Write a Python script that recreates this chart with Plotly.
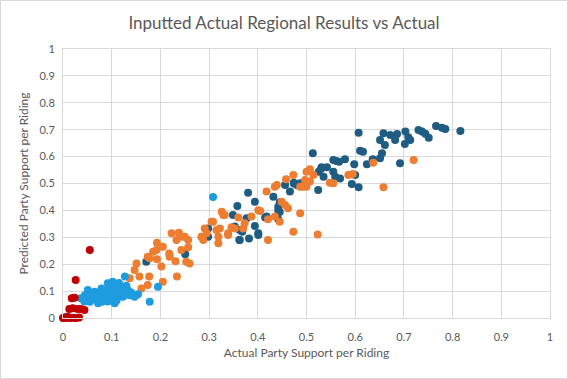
import plotly.graph_objects as go

# Series data (actual, predicted)
dark_x = [0.171,0.251,0.298,0.298,0.362,0.382,0.38,0.358,0.394,0.401,0.432,0.442,0.442,0.349,0.377,0.353,0.368,0.394,0.418,0.442,0.456,0.474,0.48,0.466,0.524,0.487,0.513,0.535,0.555,0.525,0.531,0.542,0.559,0.569,0.555,0.567,0.579,0.598,0.6,0.593,0.607,0.624,0.636,0.651,0.655,0.61,0.616,0.607,0.651,0.658,0.661,0.672,0.682,0.686,0.692,0.702,0.703,0.709,0.713,0.73,0.737,0.744,0.751,0.766,0.778,0.785,0.816,0.363,0.401,0.415,0.363,0.445,0.474,0.53,0.561,0.445]
dark_y = [0.209,0.237,0.333,0.302,0.29,0.296,0.466,0.416,0.432,0.315,0.451,0.414,0.401,0.383,0.371,0.34,0.321,0.342,0.377,0.367,0.494,0.503,0.494,0.47,0.476,0.501,0.612,0.525,0.544,0.544,0.56,0.56,0.525,0.519,0.587,0.581,0.59,0.572,0.532,0.498,0.486,0.572,0.59,0.594,0.612,0.622,0.618,0.689,0.662,0.687,0.643,0.68,0.662,0.684,0.575,0.647,0.693,0.672,0.662,0.699,0.693,0.685,0.67,0.714,0.707,0.703,0.695,0.327,0.309,0.374,0.29,0.43,0.5,0.555,0.584,0.394]

orange_x = [0.127,0.137,0.147,0.151,0.157,0.161,0.174,0.177,0.205,0.174,0.178,0.185,0.192,0.193,0.193,0.202,0.205,0.218,0.219,0.223,0.231,0.233,0.234,0.238,0.243,0.243,0.25,0.253,0.257,0.257,0.26,0.284,0.288,0.291,0.295,0.305,0.308,0.315,0.319,0.319,0.322,0.326,0.329,0.332,0.339,0.339,0.346,0.353,0.36,0.37,0.373,0.387,0.401,0.405,0.418,0.421,0.421,0.435,0.435,0.439,0.445,0.449,0.456,0.458,0.462,0.473,0.473,0.487,0.487,0.493,0.497,0.5,0.5,0.507,0.507,0.514,0.523,0.548,0.555,0.586,0.595,0.637,0.658,0.72]
orange_y = [0.104,0.148,0.178,0.203,0.154,0.11,0.123,0.154,0.135,0.228,0.222,0.246,0.253,0.28,0.218,0.191,0.265,0.24,0.228,0.315,0.211,0.29,0.154,0.317,0.302,0.253,0.302,0.209,0.29,0.263,0.203,0.302,0.29,0.333,0.315,0.358,0.358,0.327,0.302,0.278,0.333,0.395,0.383,0.383,0.315,0.309,0.337,0.333,0.374,0.333,0.352,0.377,0.401,0.398,0.47,0.367,0.29,0.377,0.488,0.494,0.358,0.432,0.42,0.516,0.408,0.532,0.321,0.389,0.488,0.488,0.513,0.544,0.488,0.553,0.507,0.532,0.31,0.503,0.501,0.532,0.535,0.577,0.486,0.587]

light_x = [0.037,0.044,0.051,0.051,0.058,0.065,0.065,0.072,0.072,0.079,0.079,0.085,0.092,0.092,0.095,0.099,0.102,0.106,0.109,0.113,0.12,0.123,0.127,0.133,0.137,0.147,0.154,0.178,0.195,0.308,0.045,0.06,0.07,0.085,0.09,0.1,0.105,0.115,0.08,0.055,0.11,0.125,0.14,0.097,0.115,0.13]
light_y = [0.073,0.061,0.104,0.073,0.067,0.098,0.079,0.055,0.092,0.073,0.11,0.085,0.129,0.061,0.117,0.098,0.135,0.055,0.123,0.085,0.11,0.079,0.154,0.104,0.085,0.079,0.088,0.06,0.116,0.45,0.085,0.09,0.07,0.1,0.075,0.07,0.11,0.1,0.06,0.06,0.065,0.095,0.095,0.09,0.13,0.12]

red_x = [0.026,0.055,0.018,0.024,0.013,0.02,0.037,0.044,0.03,0.0,0.006,0.017,0.027,0.009,0.024,0.003,0.012,0.033]
red_y = [0.141,0.253,0.073,0.075,0.033,0.036,0.033,0.03,0.033,0.0,0.0,0.0,0.0,0.005,0.001,0.002,0.001,0.002]

ticks = [0, 0.1, 0.2, 0.3, 0.4, 0.5, 0.6, 0.7, 0.8, 0.9, 1]
tick_text = ["0", "0.1", "0.2", "0.3", "0.4", "0.5", "0.6", "0.7", "0.8", "0.9", "1"]

FONT = "Lato"
GRAY = "#595959"
GRID = "#D9D9D9"

fig = go.Figure()
for xs, ys, col in [(dark_x, dark_y, "#1F5C82"), (orange_x, orange_y, "#ED7D31"),
                    (light_x, light_y, "#1F9CE0"), (red_x, red_y, "#C00000")]:
    fig.add_trace(go.Scatter(x=xs, y=ys, mode="markers", cliponaxis=False,
                             marker=dict(color=col, size=8, line=dict(width=0)),
                             showlegend=False))

fig.update_layout(
    width=568, height=379,
    margin=dict(l=63, r=18, t=49, b=61),
    paper_bgcolor="white", plot_bgcolor="white",
    title=dict(text="Inputted Actual Regional Results vs Actual", x=0.5, xanchor="center",
               y=1 - 23 / 379, yanchor="middle", font=dict(family=FONT, size=17, color=GRAY)),
    font=dict(family=FONT, color=GRAY),
    xaxis=dict(range=[0, 1], tickvals=ticks, ticktext=tick_text, showgrid=True, gridcolor=GRID,
               zeroline=False, showline=True, linecolor=GRID, mirror=True,
               ticks="outside", ticklen=9, tickcolor="rgba(0,0,0,0)",
               automargin=False, tickfont=dict(size=11, color=GRAY),
               title=dict(text="Actual Party Support per Riding", font=dict(size=12, color=GRAY), standoff=6)),
    yaxis=dict(range=[0, 1], tickvals=ticks, ticktext=tick_text, showgrid=True, gridcolor=GRID,
               zeroline=False, showline=True, linecolor=GRID, mirror=True,
               ticks="outside", ticklen=5, tickcolor="rgba(0,0,0,0)",
               automargin=False, tickfont=dict(size=11, color=GRAY),
               title=dict(text="Predicted Party Support per Riding", font=dict(size=12, color=GRAY), standoff=8)),
    shapes=[dict(type="rect", xref="paper", yref="paper",
                 x0=-62.5 / 487, x1=1 + 17.5 / 487, y0=-60.5 / 269, y1=1 + 48.5 / 269,
                 line=dict(color=GRID, width=1), fillcolor="rgba(0,0,0,0)", layer="below")],
)

fig.write_html("out.html", config={"displayModeBar": False},
               post_script="document.body.style.margin='0px';")
